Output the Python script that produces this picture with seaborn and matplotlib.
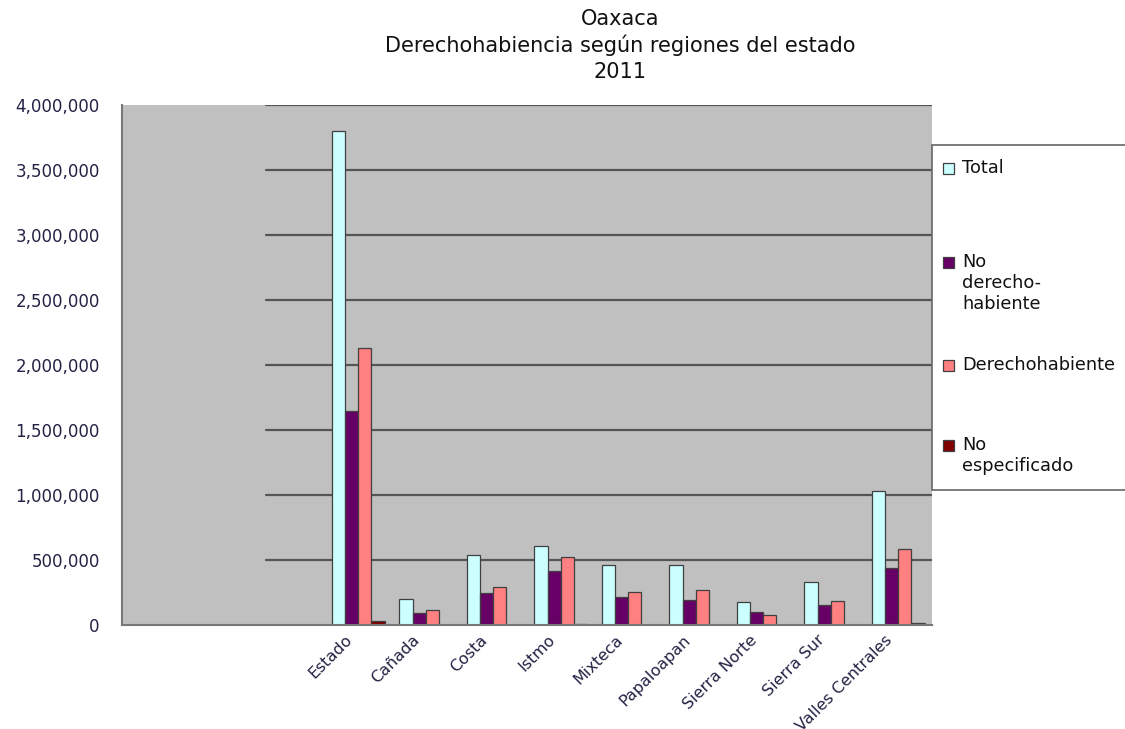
import numpy as np
import pandas as pd
import matplotlib
matplotlib.use('Agg')
import matplotlib.pyplot as plt
import matplotlib.transforms as mtransforms
from matplotlib.patches import Rectangle
import seaborn as sns
from matplotlib.ticker import FuncFormatter, MultipleLocator

# ---------------- data ----------------
regiones = ['Estado', 'Cañada', 'Costa', 'Istmo', 'Mixteca', 'Papaloapan',
            'Sierra Norte', 'Sierra Sur', 'Valles Centrales']
vacias = ['', ' ', '  ']   # the chart keeps three empty slots on the left

series = ['Total', 'No\nderecho-\nhabiente', 'Derechohabiente', 'No\nespecificado']
total = [3801962, 200000, 538000, 606000, 462000, 465000, 177000, 331000, 1031000]
no_derecho = [1645000, 92000, 246000, 415000, 215000, 192000, 100000, 154000, 438000]
derecho = [2128000, 115000, 294000, 523000, 254000, 269000, 77000, 185000, 585000]
no_especificado = [32000, 1000, 1000, 9000, 1000, 1000, 1000, 1000, 16000]

colores = ['#CCFFFF', '#660066', '#FF8080', '#800000']

df = pd.DataFrame({
    'region': regiones * 4,
    'serie': np.repeat(series, len(regiones)),
    'valor': total + no_derecho + derecho + no_especificado,
})

# ---------------- plot ----------------
sns.set_style('white')
plt.rcParams['font.family'] = ['DejaVu Sans']

fig = plt.figure(figsize=(11.25, 7.29), dpi=100)
ax = fig.add_axes([0.1084, 0.1427, 0.7200, 0.7133])
ax.set_facecolor('#C0C0C0')

sns.barplot(data=df, x='region', y='valor', hue='serie', order=vacias + regiones,
            hue_order=series, palette=colores, width=0.78, saturation=1,
            edgecolor='#404040', linewidth=0.9, legend=False, ax=ax)

ax.set_ylim(0, 4000000)
ax.set_xlim(-0.5, len(vacias) + len(regiones) - 0.5)
ax.yaxis.set_major_locator(MultipleLocator(500000))
ax.yaxis.set_major_formatter(FuncFormatter(lambda v, p: f'{int(v):,}'))

# grid lines only over the right part of the plot area, like the original
for v in np.arange(500000, 4000001, 500000):
    ax.axhline(v, xmin=0.178, xmax=1, color='#555555', lw=1.6, zorder=0.5)

for s in ['top', 'right']:
    ax.spines[s].set_visible(False)
for s in ['left', 'bottom']:
    ax.spines[s].set_color('#777777')
    ax.spines[s].set_linewidth(1.5)

ax.set_xticks(range(len(vacias) + len(regiones)))
ax.set_xticklabels(vacias + regiones, rotation=45, ha='right', va='center',
                   rotation_mode='anchor', fontsize=11.5, color='#222244')
ax.tick_params(axis='x', which='major', length=0, pad=9)
shift = mtransforms.ScaledTranslation(-8 / 100, 0, fig.dpi_scale_trans)
for lab in ax.get_xticklabels():
    lab.set_transform(lab.get_transform() + shift)
ax.set_xticks(np.arange(-0.5, len(vacias) + len(regiones)), minor=True)
ax.tick_params(axis='x', which='minor', length=5, color='#777777', width=1.2)
ax.tick_params(axis='y', length=5, color='#777777', width=1.2, labelsize=12,
               labelcolor='#222244', pad=11)

ax.set_xlabel('')
ax.set_ylabel('')
fig.suptitle('Oaxaca\nDerechohabiencia según regiones del estado\n2011',
             x=0.551, y=0.988, fontsize=15, linespacing=1.35, color='#111111')

# legend box drawn like the original (partly cut by the right edge)
W, H = 1125, 729
fig.patches.append(Rectangle((932 / W, 1 - 490 / H), 0.3, 345 / H,
                             transform=fig.transFigure, facecolor='white',
                             edgecolor='#666666', lw=1.2, zorder=1))
filas = [168, 262, 365, 445]
for nombre, color, yc in zip(series, colores, filas):
    fig.patches.append(Rectangle((943 / W, 1 - (yc + 6) / H), 11 / W, 11 / H,
                                 transform=fig.transFigure, facecolor=color,
                                 edgecolor='#404040', lw=0.9, zorder=2))
    fig.text(962 / W, 1 - (yc - 9) / H, nombre, ha='left', va='top',
             fontsize=12.8, linespacing=1.2, color='#111111', zorder=3)

fig.savefig('out.png', dpi=100)
